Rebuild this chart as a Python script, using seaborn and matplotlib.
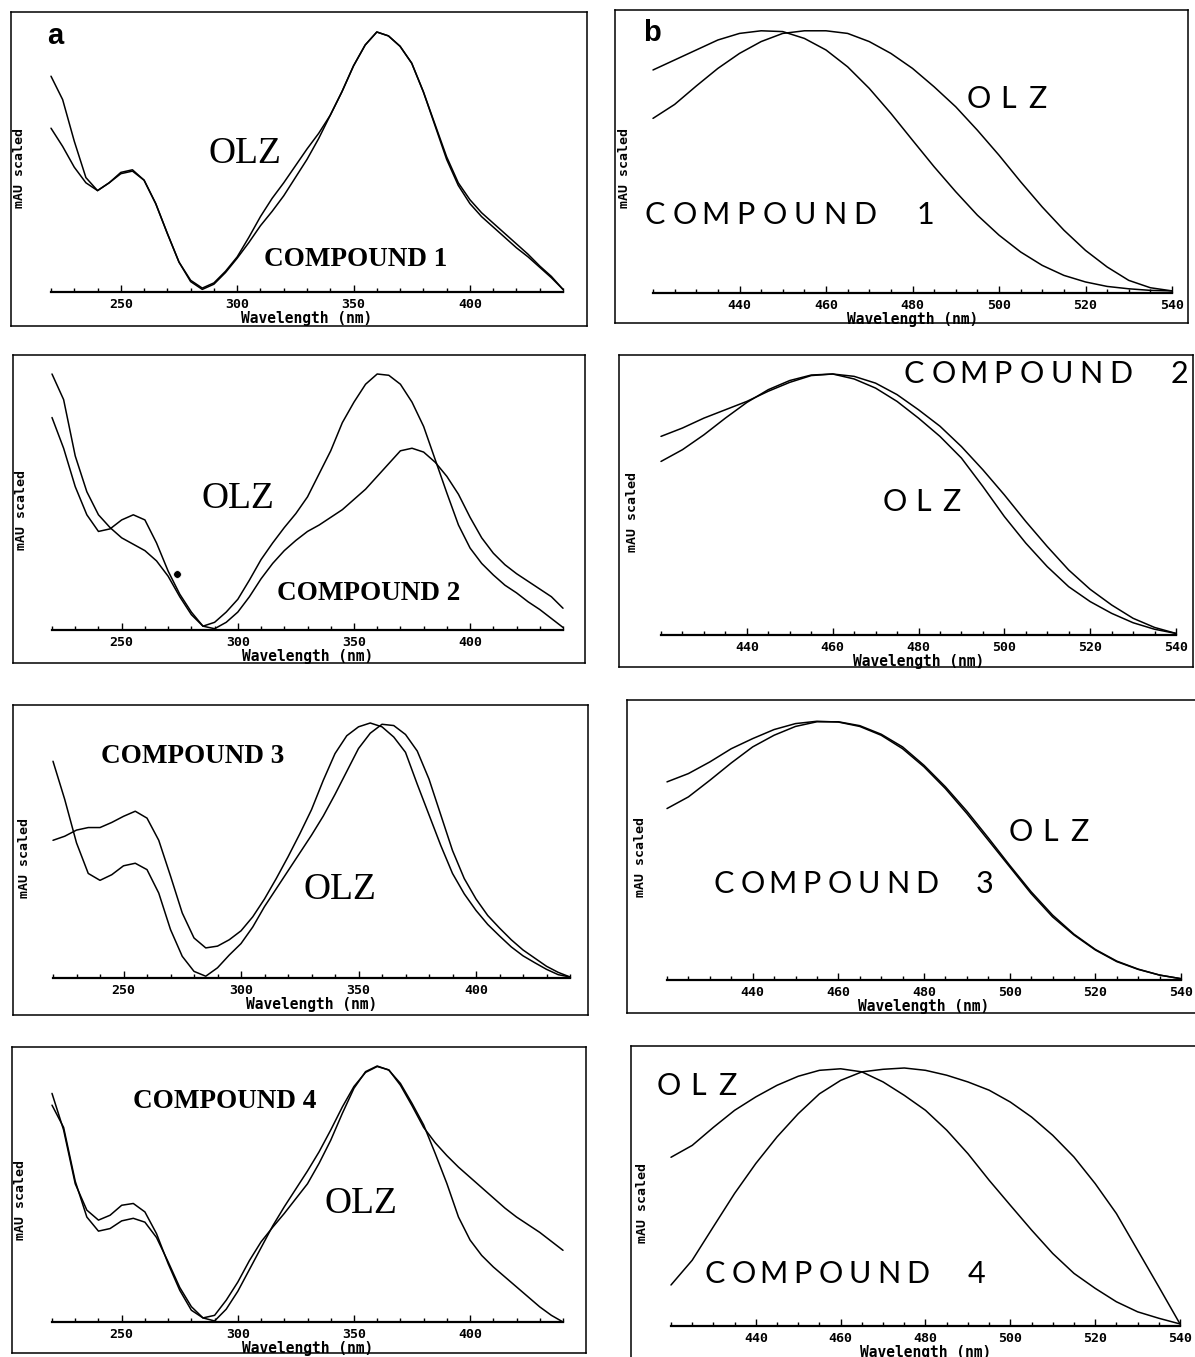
import pandas as pd
import seaborn as sns
import matplotlib.pyplot as plt
from matplotlib.ticker import MultipleLocator

# --- data (scaled 0..1) ---
wl_uv = list(range(220, 445, 5))
wl_vis = list(range(420, 545, 5))

a1_olz = [.83, .74, .58, .44, .39, .42, .46, .47, .43, .34, .225, .115, .045, .015, .035,
          .08, .135, .21, .29, .36, .42, .485, .55, .61, .68, .77, .87, .95, 1.0, .985,
          .945, .88, .77, .64, .51, .41, .34, .29, .25, .21, .17, .135, .095, .055, .01]
a1_cmp = [.63, .56, .48, .42, .39, .42, .455, .465, .43, .34, .225, .115, .04, .01, .03,
          .075, .13, .19, .255, .31, .37, .44, .51, .59, .68, .77, .87, .95, 1.0, .985,
          .945, .88, .77, .645, .52, .42, .355, .305, .265, .225, .185, .145, .10, .06, .01]

a2_olz = [.83, .71, .56, .45, .385, .395, .43, .45, .43, .34, .23, .14, .07, .015, .03,
          .07, .12, .195, .275, .34, .40, .455, .52, .61, .70, .81, .89, .96, 1.0, .995,
          .96, .89, .795, .665, .535, .41, .32, .26, .215, .175, .145, .11, .08, .045, .01]
a2_cmp = [1.0, .90, .68, .54, .45, .40, .36, .335, .31, .27, .21, .13, .06, .015, .005,
          .03, .07, .13, .20, .26, .31, .35, .385, .41, .44, .47, .51, .55, .60, .65,
          .70, .71, .695, .655, .60, .53, .44, .36, .30, .255, .22, .19, .16, .13, .085]
a2_dot_wl = [274]
a2_dot_mau = [0.22]

a3_olz = [.85, .70, .53, .41, .383, .405, .44, .45, .425, .333, .19, .085, .026, .007, .04,
          .09, .135, .20, .28, .35, .42, .49, .56, .635, .72, .81, .90, .96, .995, .99,
          .955, .89, .78, .64, .50, .39, .31, .245, .196, .15, .11, .078, .046, .022, .004]
a3_cmp = [.54, .556, .58, .59, .59, .61, .634, .654, .627, .54, .40, .255, .157, .118, .125,
          .15, .185, .24, .31, .39, .475, .565, .66, .775, .88, .95, .985, 1.0, .985, .945,
          .885, .76, .64, .52, .41, .33, .265, .21, .165, .122, .087, .06, .034, .013, .004]

a4_olz = [.893, .75, .54, .437, .398, .417, .456, .463, .43, .345, .228, .124, .046, .016, .026,
          .085, .156, .24, .313, .37, .424, .482, .54, .62, .71, .815, .913, .978, 1.0, .984,
          .932, .854, .77, .658, .541, .41, .32, .26, .215, .176, .137, .098, .059, .026, .0]
a4_cmp = [.847, .76, .55, .41, .355, .365, .395, .405, .39, .33, .235, .135, .06, .016, .004,
          .05, .12, .205, .29, .375, .45, .52, .59, .665, .75, .84, .92, .975, .998, .985,
          .925, .845, .76, .70, .65, .605, .565, .525, .485, .445, .41, .38, .35, .315, .28]

b1_olz = [.664, .717, .787, .854, .911, .956, .987, .997, .997, .987, .956, .911, .854,
          .784, .708, .619, .524, .423, .327, .239, .162, .099, .048, .02, .008]
b1_cmp = [.848, .886, .924, .962, .987, .997, .994, .968, .924, .86, .778, .683, .581,
          .48, .385, .296, .22, .156, .105, .067, .042, .025, .016, .01, .008]

b2_olz = [.665, .71, .767, .831, .891, .94, .975, .996, 1.0, .991, .965, .921, .863,
          .8, .722, .633, .537, .435, .339, .249, .175, .115, .064, .029, .006]
b2_cmp = [.761, .793, .831, .863, .895, .934, .968, .994, 1.0, .981, .946, .895, .831,
          .761, .678, .569, .454, .352, .262, .185, .128, .083, .047, .022, .006]

b3_olz = [.662, .707, .771, .838, .90, .945, .979, .997, .997, .982, .949, .90, .829,
          .746, .652, .549, .443, .341, .251, .177, .118, .073, .042, .019, .005]
b3_cmp = [.765, .797, .842, .893, .932, .967, .99, .999, .996, .979, .945, .893, .823,
          .739, .643, .54, .437, .334, .244, .174, .116, .071, .041, .019, .005]

b4_olz = [.654, .70, .77, .836, .888, .933, .968, .991, .997, .985, .946, .894, .836,
          .759, .668, .565, .468, .372, .281, .204, .146, .094, .055, .03, .008]
b4_cmp = [.159, .255, .385, .514, .63, .733, .823, .90, .952, .985, .995, 1.0, .991,
          .972, .946, .914, .868, .81, .739, .655, .552, .436, .294, .152, .008]

uv_ticks = [250, 300, 350, 400]
vis_ticks = [440, 460, 480, 500, 520, 540]

W, H = 1195, 1357

sns.set_theme(style="white")
plt.rcParams["font.family"] = ["DejaVu Sans"]
plt.rcParams["text.color"] = "black"
plt.rcParams["axes.labelcolor"] = "black"
plt.rcParams["xtick.color"] = "black"

fig = plt.figure(figsize=(W / 100, H / 100), dpi=100)


def rect(l, t, r, b):
    return [l / W, 1 - b / H, (r - l) / W, (b - t) / H]


def ftext(x, y, s, **kw):
    fig.text(x / W, 1 - y / H, s, ha="center", va="center", color="black", **kw)


def plotter_text(x, y, s, pitch, size=22):
    # thin plotter-style lettering, one char per fixed pitch
    for i, ch in enumerate(s):
        if ch != " ":
            ftext(x + i * pitch, y, ch, fontsize=size, family="Lato",
                  fontweight="normal")


# frame, plot area (px), x range, wavelengths, curves, ylabel pos
panels = [
    dict(frame=(11, 12, 587, 326), plot=(51, 32, 563, 292), uv=True,
         curves=(a1_olz, a1_cmp), ylab=(20, 168)),
    dict(frame=(615, 10, 1188, 323), plot=(653, 30, 1172, 293), uv=False,
         curves=(b1_olz, b1_cmp), ylab=(625, 168)),
    dict(frame=(13, 355, 585, 663), plot=(52, 374, 563, 630), uv=True,
         curves=(a2_olz, a2_cmp), ylab=(22, 510)),
    dict(frame=(619, 355, 1193, 667), plot=(661, 374, 1176, 635), uv=False,
         curves=(b2_olz, b2_cmp), ylab=(633, 512)),
    dict(frame=(13, 705, 588, 1015), plot=(53, 723, 570, 978), uv=True,
         curves=(a3_olz, a3_cmp), ylab=(25, 858)),
    dict(frame=(627, 700, 1205, 1013), plot=(667, 721, 1181, 980), uv=False,
         curves=(b3_olz, b3_cmp), ylab=(640, 857)),
    dict(frame=(12, 1047, 586, 1353), plot=(52, 1066, 563, 1322), uv=True,
         curves=(a4_olz, a4_cmp), ylab=(21, 1200)),
    dict(frame=(631, 1046, 1205, 1365), plot=(671, 1068, 1180, 1326), uv=False,
         curves=(b4_olz, b4_cmp), ylab=(643, 1203)),
]

mono = dict(family="DejaVu Sans Mono", fontweight="bold")

for p in panels:
    fr = fig.add_axes(rect(*p["frame"]))
    fr.set_xticks([])
    fr.set_yticks([])
    for sp in fr.spines.values():
        sp.set_color("black")
        sp.set_linewidth(1.1)

    ax = fig.add_axes(rect(*p["plot"]))
    wl = wl_uv if p["uv"] else wl_vis
    olz, cmp = p["curves"]
    df = pd.DataFrame({"wl": wl, "OLZ": olz, "CMP": cmp}).melt(
        "wl", var_name="sample", value_name="mau")
    sns.lineplot(data=df, x="wl", y="mau", units="sample", estimator=None,
                 color="black", lw=1.1, clip_on=False, ax=ax)
    if p["uv"]:
        ax.set_xlim(220, 440)
        ax.set_xticks(uv_ticks)
        ax.xaxis.set_minor_locator(MultipleLocator(10))
    else:
        ax.set_xlim(420, 540)
        ax.set_xticks(vis_ticks)
        ax.xaxis.set_minor_locator(MultipleLocator(5))
    ax.set_ylim(0, 1)
    ax.set_yticks([])
    ax.patch.set_alpha(0)
    for s in ("left", "top", "right"):
        ax.spines[s].set_visible(False)
    ax.spines["bottom"].set_linewidth(1.6)
    ax.spines["bottom"].set_color("black")
    ax.tick_params(axis="x", which="major", direction="in", length=5, width=1,
                   pad=4, labelsize=9.5, bottom=True, color="black", labelcolor="black")
    ax.tick_params(axis="x", which="minor", direction="in", length=3, width=1,
                   bottom=True, color="black")
    for lab in ax.get_xticklabels():
        lab.set_family("DejaVu Sans Mono")
        lab.set_fontweight("bold")
    ax.set_xlabel("Wavelength (nm)", fontsize=10.5, labelpad=0, color="black", **mono)
    ax.set_ylabel("")
    ftext(*p["ylab"], "mAU scaled", rotation=90, fontsize=9.5, **mono)
    p["ax"] = ax

# marker dot in panel a2
sns.scatterplot(x=a2_dot_wl, y=a2_dot_mau, color="black", s=30, ax=panels[2]["ax"],
                clip_on=False, legend=False)
panels[2]["ax"].set_xlabel("Wavelength (nm)", fontsize=10.5, labelpad=0,
                           color="black", **mono)
panels[2]["ax"].set_ylabel("")

# panel letters
ftext(55, 36, "a", fontsize=21, family="Liberation Sans", fontweight="bold")
ftext(652, 33, "b", fontsize=21, family="Liberation Sans", fontweight="bold")

# left column labels (serif)
serif_olz = dict(fontsize=27, family="Liberation Serif")
serif_cmp = dict(fontsize=19.5, family="Liberation Serif", fontweight="bold")
ftext(245, 154, "OLZ", **serif_olz)
ftext(356, 260, "COMPOUND 1", **serif_cmp)
ftext(238, 499, "OLZ", **serif_olz)
ftext(369, 594, "COMPOUND 2", **serif_cmp)
ftext(193, 757, "COMPOUND 3", **serif_cmp)
ftext(340, 890, "OLZ", **serif_olz)
ftext(225, 1101, "COMPOUND 4", **serif_cmp)
ftext(361, 1204, "OLZ", **serif_olz)

# right column labels (plotter lettering)
plotter_text(979, 99, "OLZ", 29)
plotter_text(655, 215, "COMPOUND 1", 30)
plotter_text(914, 374, "COMPOUND 2", 29.5)
plotter_text(895, 502, "OLZ", 28)
plotter_text(1021, 832, "OLZ", 29)
plotter_text(724, 884, "COMPOUND 3", 29)
plotter_text(669, 1086, "OLZ", 29)
plotter_text(715, 1274, "COMPOUND 4", 29)

fig.savefig("out.png", dpi=100, facecolor="white")
